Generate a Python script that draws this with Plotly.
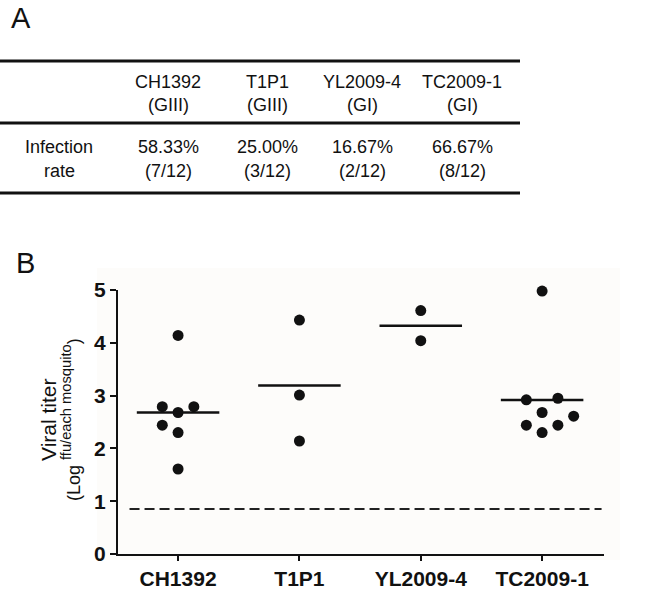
import numpy as np
import plotly.graph_objects as go

# table (panel A)
strains = ['CH1392', 'T1P1', 'YL2009-4', 'TC2009-1']
genotypes = ['(GIII)', '(GIII)', '(GI)', '(GI)']
rate_pct = ['58.33%', '25.00%', '16.67%', '66.67%']
rate_frac = ['(7/12)', '(3/12)', '(2/12)', '(8/12)']

# viral titers (panel B), log ffu per mosquito
titer_ch1392 = [4.14, 2.79, 2.79, 2.68, 2.44, 2.30, 1.61]
titer_t1p1 = [4.43, 3.01, 2.14]
titer_yl2009 = [4.61, 4.04]
titer_tc2009 = [4.98, 2.92, 2.95, 2.68, 2.61, 2.44, 2.44, 2.30]
detection_limit = 0.85

titers = [titer_ch1392, titer_t1p1, titer_yl2009, titer_tc2009]
# horizontal slot of each dot in the scatter-dot layout
slots = [[0, -1, 1, 0, -1, 0, 0], [0, 0, 0], [0, 0], [0, -1, 1, 0, 2, -1, 1, 0]]

FONT = 'Liberation Sans, Arial, sans-serif'
W, H = 666, 590
L, R, T, B = 118, 62, 290, 36


def px(x):
    return (x - L) / (W - L - R)


def py(y):
    return (H - B - y) / (H - T - B)


fig = go.Figure()

# light panel background
fig.add_shape(type='rect', xref='paper', yref='paper', x0=px(97), x1=px(620),
              y0=py(560), y1=py(268), fillcolor='#fdfcfa', line_width=0, layer='below')

for i, (vals, sl) in enumerate(zip(titers, slots)):
    xs = [i + s * 0.13 for s in sl]
    fig.add_trace(go.Scatter(x=xs, y=vals, mode='markers', cliponaxis=False,
                             marker=dict(color='#111111', size=11),
                             showlegend=False, hoverinfo='y'))
    m = float(np.mean(vals))
    fig.add_trace(go.Scatter(x=[i - 0.34, i + 0.34], y=[m, m], mode='lines',
                             line=dict(color='#111111', width=2.5),
                             showlegend=False, hoverinfo='skip'))

# detection limit
fig.add_trace(go.Scatter(x=[-0.40, 3.49], y=[detection_limit, detection_limit], mode='lines',
                         line=dict(color='#222222', width=2, dash='10px,5px'),
                         showlegend=False, hoverinfo='skip'))

fig.update_xaxes(range=[-0.495, 3.51], tickvals=list(range(len(strains))), ticktext=strains,
                 showline=True, linecolor='#111111', linewidth=2, ticks='outside',
                 ticklen=5, tickwidth=2, tickcolor='#111111', showgrid=False, zeroline=False,
                 automargin=False,
                 tickfont=dict(family=FONT, size=21, color='#111111', weight='bold'))
fig.update_yaxes(range=[0, 5], tickvals=[0, 1, 2, 3, 4, 5],
                 showline=True, linecolor='#111111', linewidth=2, ticks='outside',
                 ticklen=6, tickwidth=2, tickcolor='#111111', showgrid=False, zeroline=False,
                 automargin=False,
                 tickfont=dict(family=FONT, size=21, color='#111111', weight='bold'))

ann = []
# panel letters
ann.append(dict(x=px(9), y=py(18), text='A', xanchor='left', yanchor='middle',
                font=dict(size=29, family=FONT, color='#111111')))
ann.append(dict(x=px(14), y=py(263), text='B', xanchor='left', yanchor='middle',
                font=dict(size=29, family=FONT, color='#111111')))

# table text
col_x = [168, 267, 362, 462]
for cx, s, g, r, f in zip(col_x, strains, genotypes, rate_pct, rate_frac):
    for txt, yy in [(s, 82), (g, 105), (r, 147), (f, 171)]:
        ann.append(dict(x=px(cx), y=py(yy), text=txt, xanchor='center', yanchor='middle',
                        font=dict(size=18, family=FONT, color='#111111')))
for txt, yy in [('Infection', 147), ('rate', 171)]:
    ann.append(dict(x=px(59), y=py(yy), text=txt, xanchor='center', yanchor='middle',
                    font=dict(size=18, family=FONT, color='#111111')))

# y axis title
ann.append(dict(x=px(48), y=py(420), text='Viral titer', textangle=-90,
                xanchor='center', yanchor='middle',
                font=dict(size=21, family=FONT, color='#111111')))
ann.append(dict(x=px(71), y=py(420),
                text='<span style="font-size:18px">(Log </span><sup>ffu/each mosquito</sup>'
                     '<span style="font-size:18px">)</span>',
                textangle=-90, xanchor='center', yanchor='middle',
                font=dict(size=21, family=FONT, color='#111111')))
for a in ann:
    a.update(xref='paper', yref='paper', showarrow=False)

# table rules
for yy in [61, 123, 193]:
    fig.add_shape(type='line', xref='paper', yref='paper', x0=px(0), x1=px(520),
                  y0=py(yy), y1=py(yy), line=dict(color='#111111', width=3))

fig.update_layout(
    width=W, height=H,
    margin=dict(l=L, r=R, t=T, b=B, autoexpand=False),
    plot_bgcolor='rgba(0,0,0,0)', paper_bgcolor='white',
    annotations=ann,
    font=dict(family=FONT, color='#111111'),
)

# drop the default page margin so the figure sits at the window's corner
fig.write_html('out.html', config={'displayModeBar': False},
               post_script="document.body.style.margin='0px';")
